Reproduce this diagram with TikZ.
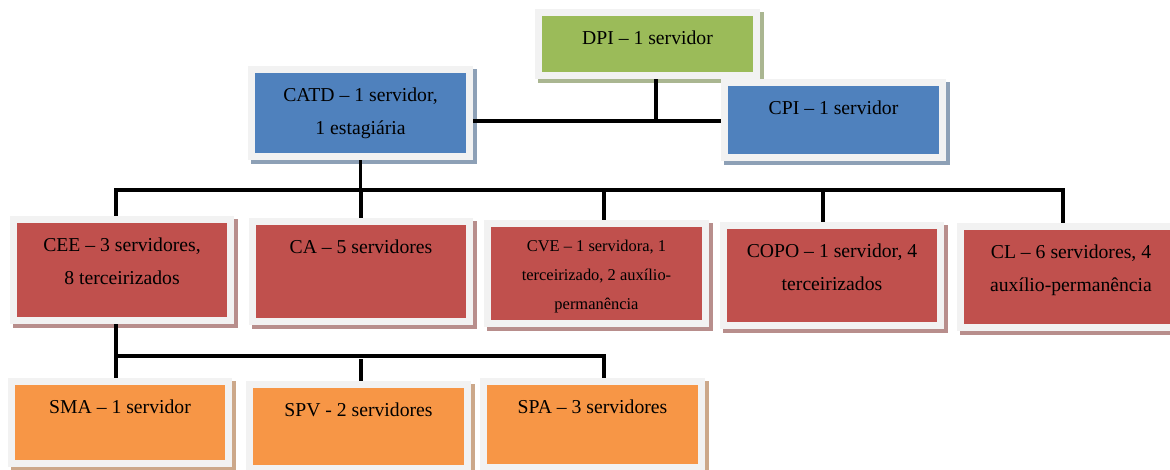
\documentclass[tikz,border=0pt]{standalone}
\usepackage{fontspec}
\setmainfont{Liberation Serif}
\usepackage{tikz}

\definecolor{dpigreen}{HTML}{9BBB59}
\definecolor{coordblue}{HTML}{4F81BD}
\definecolor{sectred}{HTML}{C0504D}
\definecolor{subsorange}{HTML}{F79646}
\definecolor{framegray}{HTML}{F2F2F2}

\begin{document}
\begin{tikzpicture}[x=0.025cm, y=-0.025cm,
    unit/.style={rectangle, inner sep=0pt, outer sep=5pt, line join=miter, fill=#1,
      preaction={draw=#1!50!gray!75!white, line width=10pt, transform canvas={shift={(2.5pt,-2.5pt)}}},
      preaction={draw=framegray, line width=10pt}},
    size/.style 2 args={minimum width=#1*0.025cm, minimum height=#2*0.025cm},
    txt/.style={font=\fontsize{14}{23.5}\selectfont, align=center, inner sep=0pt,
      anchor=north, yshift=-15.4pt},
    small txt/.style={font=\fontsize{11.7}{20.5}\selectfont, align=center, inner sep=0pt,
      anchor=north, yshift=-14pt},
    link/.style={line width=2.6pt}]

  \useasboundingbox (0,0) rectangle (1170,469);
  \clip (0,0) rectangle (1170,469);

  \node[unit=dpigreen, size={211}{56}] (dpi) at (647.5,44)
    [label={[txt]north:{DPI – 1 servidor}}] {};
  \node[unit=coordblue, size={211}{80}] (catd) at (360.5,113)
    [label={[txt]north:{CATD – 1 servidor,\\1 estagiária}}] {};
  \node[unit=coordblue, size={211}{68}] (cpi) at (833.5,120)
    [label={[txt]north:{CPI – 1 servidor}}] {};

  \node[unit=sectred, size={210}{94}] (cee) at (122,270)
    [label={[txt]north:{CEE – 3 servidores,\\8 terceirizados}}] {};
  \node[unit=sectred, size={210}{93}] (ca) at (361,271.5)
    [label={[txt]north:{CA – 5 servidores}}] {};
  \node[unit=sectred, size={211}{93}] (cve) at (596.5,273.5)
    [label={[small txt]north:{CVE – 1 servidora, 1\\terceirizado, 2 auxílio-\\permanência}}] {};
  \node[unit=sectred, size={210}{93}] (copo) at (832,275.5)
    [label={[txt]north:{COPO – 1 servidor, 4\\terceirizados}}] {};
  \node[unit=sectred, size={214}{94}] (cl) at (1071,277)
    [label={[txt]north:{CL – 6 servidores, 4\\auxílio-permanência}}] {};

  \node[unit=subsorange, size={210}{75}] (sma) at (120,422.5)
    [label={[txt]north:{SMA – 1 servidor}}] {};
  \node[unit=subsorange, size={211}{77}] (spv) at (358.5,426.5)
    [label={[txt]north:{SPV - 2 servidores}}] {};
  \node[unit=subsorange, size={211}{79}] (spa) at (592.5,424.5)
    [label={[txt]north:{SPA – 3 servidores}}] {};

  \coordinate (top) at (656,121);
  \coordinate (midL) at (116,190);
  \coordinate (midR) at (1063,190);
  \coordinate (lowL) at (116,356);
  \coordinate (lowR) at (604,356);

  \draw[link] (dpi.south -| top) -- (top);
  \draw[link] (catd.east |- top) -- (cpi.west |- top);
  \draw[link] (catd.south) -- (catd.south |- midL);
  \draw[link] (midL |- cee.north) -- (midL) -- (midR) -- (midR |- cl.north);
  \draw[link] (ca.north |- midL) -- (ca.north);
  \draw[link] (lowR |- midL) -- (lowR |- cve.north);
  \draw[link] (823,190) -- (823,190 |- copo.north);
  \draw[link] (midL |- cee.south) -- (midL |- sma.north);
  \draw[link] (lowL) -- (lowR) -- (lowR |- spa.north);
  \draw[link] (361,359) -- (361,359 |- spv.north);
\end{tikzpicture}
\end{document}
